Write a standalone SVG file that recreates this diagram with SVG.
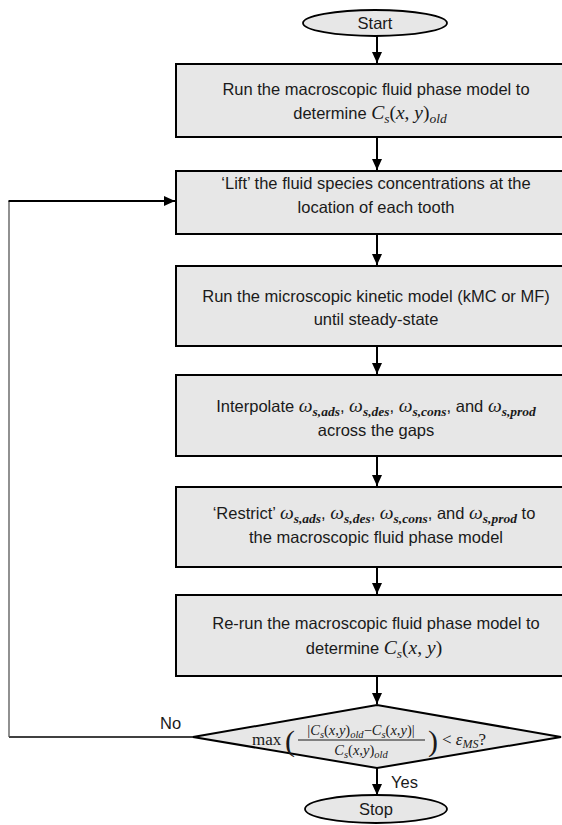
<svg xmlns="http://www.w3.org/2000/svg" width="562" height="825" viewBox="0 0 562 825">
<defs>
<marker id="ah" markerUnits="userSpaceOnUse" markerWidth="11" markerHeight="10" refX="11" refY="5" orient="auto">
<path d="M0,0 L11,5 L0,10 z" fill="#000"/>
</marker>
<style>
.box{fill:#e7e7e7;stroke:#000;stroke-width:2}
.t{font-family:"Liberation Sans",Arial,sans-serif;font-size:16.5px;fill:#1a1a1a;text-anchor:middle}
.ts{font-family:"Liberation Sans",Arial,sans-serif;font-size:16.5px;fill:#1a1a1a}
.m{font-family:"Liberation Serif","DejaVu Serif",serif;font-style:italic;font-size:19.5px}
.mr{font-family:"Liberation Serif","DejaVu Serif",serif;font-size:19.5px}
.sub{font-size:13.5px}
.b{font-weight:bold}
.conn{stroke:#000;stroke-width:2;fill:none}
.f{font-family:"Liberation Serif","DejaVu Serif",serif;font-size:14.5px;fill:#1a1a1a;text-anchor:middle}
.fi{font-style:italic}
.fs{font-size:10.5px}
.dm{font-family:"Liberation Serif","DejaVu Serif",serif;font-size:17px;fill:#1a1a1a}
.par{font-family:"Liberation Serif","DejaVu Serif",serif;font-size:30px;fill:#1a1a1a}
</style>
</defs>
<rect width="562" height="825" fill="#fff"/>

<g id="connectors">
<line class="conn" x1="377" y1="36" x2="377" y2="63" marker-end="url(#ah)"/>
<line class="conn" x1="377" y1="137" x2="377" y2="170" marker-end="url(#ah)"/>
<line class="conn" x1="377" y1="234" x2="377" y2="265" marker-end="url(#ah)"/>
<line class="conn" x1="377" y1="346" x2="377" y2="374" marker-end="url(#ah)"/>
<line class="conn" x1="377" y1="456" x2="377" y2="486" marker-end="url(#ah)"/>
<line class="conn" x1="377" y1="567" x2="377" y2="594" marker-end="url(#ah)"/>
<line class="conn" x1="377" y1="676" x2="377" y2="704" marker-end="url(#ah)"/>
<line class="conn" x1="377" y1="767" x2="377" y2="795" marker-end="url(#ah)"/>
<line x1="193" y1="737" x2="9" y2="737" stroke="#000" stroke-width="1.3"/>
<line x1="9" y1="737" x2="9" y2="201" stroke="#555" stroke-width="1.3"/>
<line class="conn" x1="8.5" y1="201" x2="175" y2="201" marker-end="url(#ah)"/>
<text class="ts" x="160" y="729">No</text>
<text class="ts" x="391" y="788">Yes</text>
</g>

<g id="start">
<ellipse cx="375" cy="23" rx="72" ry="13" fill="#e7e7e7" stroke="#000" stroke-width="1.8"/>
<text class="t" x="375" y="29">Start</text>
</g>

<g id="box1">
<rect class="box" x="176" y="64" width="410" height="73"/>
<text class="t" x="376" y="95">Run the macroscopic fluid phase model to</text>
<text class="t" x="370" y="119">determine <tspan class="m">C</tspan><tspan class="m sub" dy="4">s</tspan><tspan class="mr" dy="-4">(</tspan><tspan class="m">x</tspan><tspan class="mr">, </tspan><tspan class="m">y</tspan><tspan class="mr">)</tspan><tspan class="m sub" dy="4">old</tspan></text>
</g>

<g id="box2">
<rect class="box" x="176" y="171" width="410" height="63"/>
<text class="t" x="376" y="189">‘Lift’ the fluid species concentrations at the</text>
<text class="t" x="376" y="213">location of each tooth</text>
</g>

<g id="box3">
<rect class="box" x="176" y="266" width="410" height="80"/>
<text class="t" x="376" y="302">Run the microscopic kinetic model (kMC or MF)</text>
<text class="t" x="376" y="325">until steady-state</text>
</g>

<g id="box4">
<rect class="box" x="176" y="375" width="410" height="81"/>
<text class="t" x="376" y="412">Interpolate <tspan class="m">ω</tspan><tspan class="m sub b" dy="4">s,ads</tspan><tspan dy="-4">, </tspan><tspan class="m">ω</tspan><tspan class="m sub b" dy="4">s,des</tspan><tspan dy="-4">, </tspan><tspan class="m">ω</tspan><tspan class="m sub b" dy="4">s,cons</tspan><tspan dy="-4">, and </tspan><tspan class="m">ω</tspan><tspan class="m sub b" dy="4">s,prod</tspan></text>
<text class="t" x="376" y="436">across the gaps</text>
</g>

<g id="box5">
<rect class="box" x="176" y="487" width="410" height="80"/>
<text class="t" x="374" y="519">‘Restrict’ <tspan class="m">ω</tspan><tspan class="m sub b" dy="4">s,ads</tspan><tspan dy="-4">, </tspan><tspan class="m">ω</tspan><tspan class="m sub b" dy="4">s,des</tspan><tspan dy="-4">, </tspan><tspan class="m">ω</tspan><tspan class="m sub b" dy="4">s,cons</tspan><tspan dy="-4">, and </tspan><tspan class="m">ω</tspan><tspan class="m sub b" dy="4">s,prod</tspan><tspan dy="-4"> to</tspan></text>
<text class="t" x="376" y="543">the macroscopic fluid phase model</text>
</g>

<g id="box6">
<rect class="box" x="176" y="595" width="410" height="81"/>
<text class="t" x="376" y="629">Re-run the macroscopic fluid phase model to</text>
<text class="t" x="374" y="654">determine <tspan class="m">C</tspan><tspan class="m sub" dy="4">s</tspan><tspan class="mr" dy="-4">(</tspan><tspan class="m">x</tspan><tspan class="mr">, </tspan><tspan class="m">y</tspan><tspan class="mr">)</tspan></text>
</g>

<g id="decision">
<polygon points="193,737 377,705 561,737 377,768" fill="#e7e7e7" stroke="#000" stroke-width="2"/>
<text class="dm" x="252" y="745">max</text>
<text class="par" x="285" y="751">(</text>
<text class="f" x="361" y="735">|<tspan class="fi">C</tspan><tspan class="fi fs" dy="3">s</tspan><tspan dy="-3">(</tspan><tspan class="fi">x</tspan>,<tspan class="fi">y</tspan>)<tspan class="fi fs" dy="3">old</tspan><tspan dy="-3">−</tspan><tspan class="fi">C</tspan><tspan class="fi fs" dy="3">s</tspan><tspan dy="-3">(</tspan><tspan class="fi">x</tspan>,<tspan class="fi">y</tspan>)|</text>
<line x1="298" y1="740" x2="425" y2="740" stroke="#1a1a1a" stroke-width="1.2"/>
<text class="f" x="361" y="755"><tspan class="fi">C</tspan><tspan class="fi fs" dy="3">s</tspan><tspan dy="-3">(</tspan><tspan class="fi">x</tspan>,<tspan class="fi">y</tspan>)<tspan class="fi fs" dy="3">old</tspan></text>
<text class="par" x="428" y="751">)</text>
<text class="dm" x="442" y="745">&lt; <tspan class="fi">ε</tspan><tspan class="fi" font-size="12" dy="3">MS</tspan><tspan dy="-3">?</tspan></text>
</g>

<g id="stop">
<ellipse cx="376" cy="809" rx="71" ry="14" fill="#e7e7e7" stroke="#000" stroke-width="1.8"/>
<text class="t" x="376" y="815">Stop</text>
</g>
</svg>
